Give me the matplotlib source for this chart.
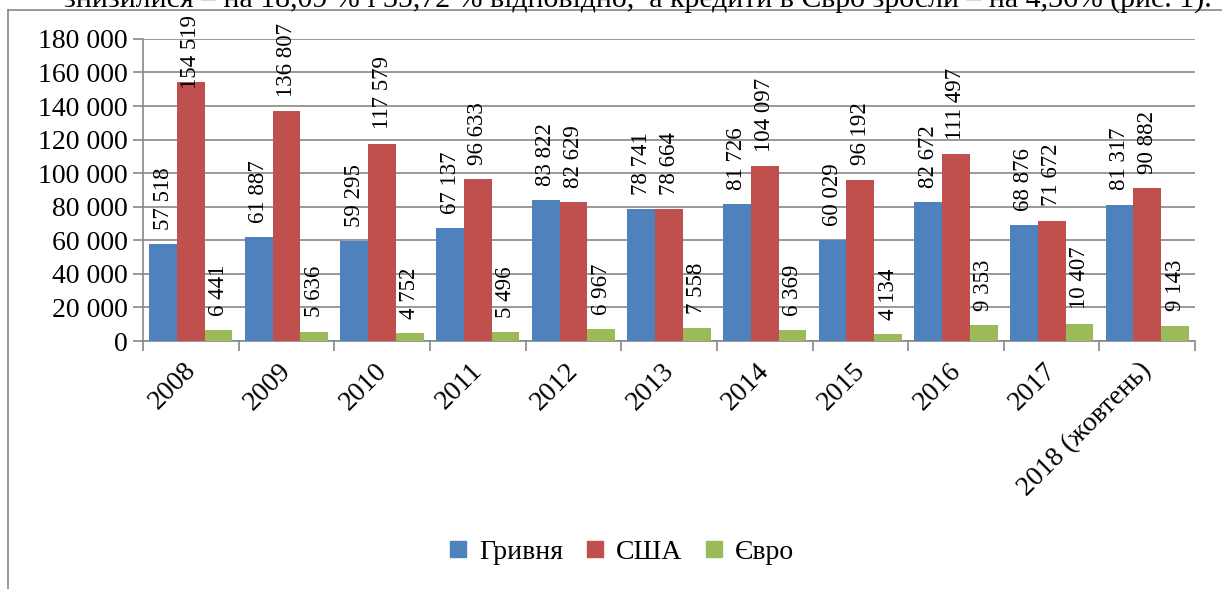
import numpy as np
import matplotlib.pyplot as plt
from matplotlib.lines import Line2D
from matplotlib.transforms import ScaledTranslation

plt.rcParams['font.family'] = ['Liberation Serif', 'DejaVu Serif']

years = ['2008', '2009', '2010', '2011', '2012', '2013', '2014', '2015', '2016', '2017', '2018 (жовтень)']
uah = [57518, 61887, 59295, 67137, 83822, 78741, 81726, 60029, 82672, 68876, 81317]
usd = [154519, 136807, 117579, 96633, 82629, 78664, 104097, 96192, 111497, 71672, 90882]
eur = [6441, 5636, 4752, 5496, 6967, 7558, 6369, 4134, 9353, 10407, 9143]
series = [('Гривня', uah, '#4F81BD'), ('США', usd, '#C0504D'), ('Євро', eur, '#9BBB59')]

def fmt(v):
    return '{:,}'.format(v).replace(',', ' ')

fig = plt.figure(figsize=(12.22, 5.89), dpi=100)
ax = fig.add_axes([0.117, 0.421, 0.861, 0.513])

x = np.arange(len(years))
w = 0.29
top_lim = 194000   # labels are kept inside the chart area
lab_len = 41000
for i, (name, vals, col) in enumerate(series):
    pos = x + (i - 1) * w
    ax.bar(pos, vals, width=w, color=col, label=name, zorder=3)
    for p, v in zip(pos, vals):
        y0 = v + 8500
        if y0 + lab_len > top_lim:
            ax.text(p, top_lim, fmt(v), rotation=90, ha='center', va='top',
                    fontsize=16.5, clip_on=False, zorder=4)
        else:
            ax.text(p, y0, fmt(v), rotation=90, ha='center', va='bottom',
                    fontsize=16.5, clip_on=False, zorder=4)

ax.set_xlim(-0.5, len(years) - 0.5)
ax.set_ylim(0, 180000)
ax.set_yticks(np.arange(0, 180001, 20000))
ax.set_yticklabels([fmt(v) for v in range(0, 180001, 20000)], fontsize=20)
ax.yaxis.grid(True, color='#888888', linewidth=1.2, zorder=0)
ax.set_xticks(np.arange(-0.5, len(years)))
ax.set_xticklabels([])

# category labels, rotated 45 degrees
lab_tr = ax.get_xaxis_transform() + ScaledTranslation(-0.08, -0.17, fig.dpi_scale_trans)
for xi, yr in zip(x, years):
    ax.text(xi, 0, yr, transform=lab_tr, rotation=45, ha='right', va='top',
            rotation_mode='anchor', fontsize=20)

ax.tick_params(axis='x', length=7, color='#888888', width=1.2)
ax.tick_params(axis='y', length=7, color='#888888', width=1.2, pad=4)
for s in ['top', 'right']:
    ax.spines[s].set_visible(False)
for s in ['left', 'bottom']:
    ax.spines[s].set_color('#888888')
    ax.spines[s].set_linewidth(1.2)

handles = [Line2D([], [], marker='s', linestyle='', markersize=11, color=c) for _, _, c in series]
fig.legend(handles, [n for n, _, _ in series], loc='center', bbox_to_anchor=(0.508, 0.062),
           ncol=3, frameon=False, fontsize=20, handlelength=0.8, handletextpad=0.35,
           columnspacing=0.75)

# chart frame
fig.add_artist(Line2D([8 / 1222, 8 / 1222], [0, 1 - 10 / 589], color='#888888', linewidth=1.2))
fig.add_artist(Line2D([8 / 1222, 1], [1 - 10 / 589, 1 - 10 / 589], color='#888888', linewidth=1.2))

fig.text(0.992, 1 - 7 / 589, 'знизилися – на 18,09 % і 35,72 % відповідно,  а кредити в Євро зросли – на 4,36% (рис. 1).',
         ha='right', va='baseline', fontsize=21.5)

fig.savefig('out.png', dpi=100)
